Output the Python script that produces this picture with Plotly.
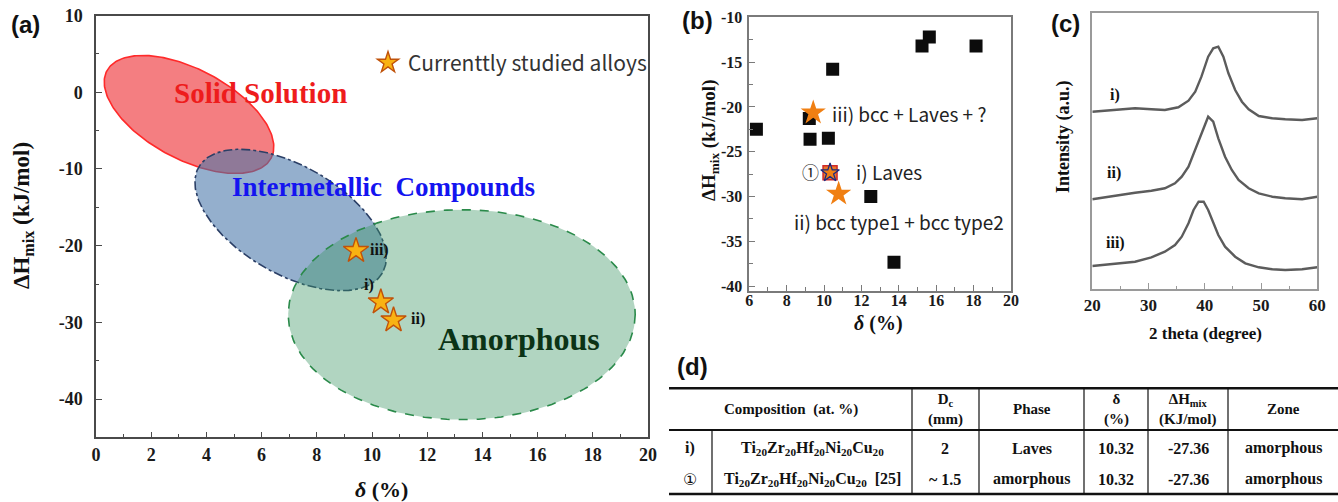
import numpy as np
import plotly.graph_objects as go

W, H = 1338, 502
OFF = 0  # page body margin is removed by the post script below

# ---------------- data ----------------
# currently studied alloys (panels a and b)
alloy_labels = ["i)", "ii)", "iii)"]
alloy_delta = [10.32, 10.78, 9.42]
alloy_dHmix = [-27.36, -29.7, -20.65]

# panel (b): reference alloys (black squares)
ref_delta = [6.38, 9.21, 9.25, 10.23, 10.46, 15.24, 15.63, 18.13, 12.5, 13.74]
ref_dHmix = [-22.5, -21.3, -23.6, -23.5, -15.8, -13.2, -12.2, -13.2, -30.0, -37.35]
# panel (b): reference alloy (1) of same composition
ref1_delta = [10.32]
ref1_dHmix = [-27.36]

# panel (a) region ellipses: centre in data units, semi-axes in px, tilt in degrees
region_names = ["Solid Solution", "Intermetallic  Compounds", "Amorphous"]
region_cx = [3.37, 7.05, 13.25]
region_cy = [-2.89, -16.65, -29.0]
region_a_px = [93, 106, 173.5]
region_b_px = [45, 54, 105]
region_tilt = [28, 30, 0]

# panel (a) ticks
a_xtick_vals = [0, 2, 4, 6, 8, 10, 12, 14, 16, 18, 20]
a_xtick_text = ["0", "2", "4", "6", "8", "10", "12", "14", "16", "18", "20"]
a_ytick_vals = [10, 0, -10, -20, -30, -40]
a_ytick_text = ["10", "0", "-10", "-20", "-30", "-40"]
# panel (b) ticks
b_xtick_vals = [6, 8, 10, 12, 14, 16, 18, 20]
b_xtick_text = ["6", "8", "10", "12", "14", "16", "18", "20"]
b_ytick_vals = [-10, -15, -20, -25, -30, -35, -40]
b_ytick_text = ["-10", "-15", "-20", "-25", "-30", "-35", "-40"]
# panel (c) ticks
c_xtick_vals = [20, 30, 40, 50, 60]
c_xtick_text = ["20", "30", "40", "50", "60"]

# panel (c) XRD patterns (intensity, a.u., offset curves)
xrd_i_2theta = [20, 24.6, 27.6, 30.5, 32.9, 35.3, 37.1, 38.3, 39.4, 40.6, 41.5, 42.4,
                43.3, 44.2, 45.4, 46.6, 47.8, 49.6, 52.0, 54.3, 57.3, 60]
xrd_i_int = [177.3, 179.7, 180.7, 179.7, 179.0, 181.7, 188.3, 197.3, 212.3, 232.3, 240.7, 242.3,
             232.3, 215.7, 199.0, 187.3, 179.7, 173.0, 170.7, 169.7, 169.0, 170.7]
xrd_ii_2theta = [20, 24.6, 27.6, 30.5, 32.9, 34.7, 35.9, 37.1, 38.3, 39.4, 40.6, 41.5,
                 42.4, 43.6, 44.8, 46.0, 47.8, 49.6, 52.0, 54.3, 57.3, 60]
xrd_ii_int = [89.7, 94.0, 96.3, 98.3, 100.7, 105.7, 112.3, 122.3, 139.0, 155.7, 172.3, 167.3,
              150.7, 132.3, 119.0, 109.0, 100.7, 95.7, 92.3, 90.7, 89.7, 92.3]
xrd_iii_2theta = [20, 24.6, 27.6, 30.5, 32.9, 34.7, 35.9, 37.1, 38.0, 38.9, 39.8, 40.6,
                  41.5, 42.4, 43.6, 45.4, 47.2, 49.6, 52.0, 54.3, 57.3, 60]
xrd_iii_int = [23.0, 25.7, 27.3, 31.7, 37.3, 44.0, 52.3, 65.7, 79.0, 87.3, 87.3, 79.0,
               65.7, 54.0, 42.3, 32.3, 25.7, 21.7, 19.7, 19.0, 19.7, 21.7]

# panel (d) table
tbl_header = ["Composition  (at. %)", "D<sub>c</sub><br>(mm)", "Phase", "δ<br>(%)",
              "ΔH<sub>mix</sub><br>(KJ/mol)", "Zone"]
tbl_row_ids = ["i)", "①"]
tbl_comp = ["Ti<sub>20</sub>Zr<sub>20</sub>Hf<sub>20</sub>Ni<sub>20</sub>Cu<sub>20</sub>",
            "Ti<sub>20</sub>Zr<sub>20</sub>Hf<sub>20</sub>Ni<sub>20</sub>Cu<sub>20</sub>  [25]"]
tbl_dc = ["2", "~ 1.5"]
tbl_phase = ["Laves", "amorphous"]
tbl_delta = ["10.32", "10.32"]
tbl_dH = ["-27.36", "-27.36"]
tbl_zone = ["amorphous", "amorphous"]

# ---------------- layout geometry (window pixels) ----------------
def px(x):
    return (x - OFF) / W

def py(y):
    return 1 - (y - OFF) / H

A_L, A_R, A_T, A_B = 96, 648, 15.6, 437.4
B_L, B_R, B_T, B_B = 749.3, 1011, 17.3, 290.6
C_L, C_R, C_T, C_B = 1092.3, 1317.3, 13.3, 289
a_xr, a_yr = [0, 20], [-45, 10]
b_xr, b_yr = [6, 20], [-40.5, -10]
c_xr, c_yr = [20, 60], [0, 275.7]

SERIF = "Liberation Serif"
SANS = "Noto Sans CJK KR"

fig = go.Figure()

# ---------------- panel (a) ----------------
sx = (A_R - A_L) / (a_xr[1] - a_xr[0])
sy = (A_B - A_T) / (a_yr[1] - a_yr[0])
fills = ["rgba(237,40,45,0.60)", "rgba(70,118,168,0.58)", "rgba(60,150,100,0.40)"]
lines = ["#ff2a2a", "#2b3f66", "#2a8a4a"]
dashes = ["solid", "dashdot", "dash"]
t = np.linspace(0, 2 * np.pi, 240)
for k in range(3):
    th = np.deg2rad(region_tilt[k])
    dxp = region_a_px[k] * np.cos(t) * np.cos(th) - region_b_px[k] * np.sin(t) * np.sin(th)
    dyp = region_a_px[k] * np.cos(t) * np.sin(th) + region_b_px[k] * np.sin(t) * np.cos(th)
    fig.add_trace(go.Scatter(
        x=region_cx[k] + dxp / sx, y=region_cy[k] - dyp / sy,
        mode="lines", fill="toself", fillcolor=fills[k],
        line=dict(color=lines[k], width=1.6, dash=dashes[k]),
        hoverinfo="skip", showlegend=False, xaxis="x", yaxis="y"))

fig.add_trace(go.Scatter(
    x=alloy_delta, y=alloy_dHmix, mode="markers", name="Currenttly studied alloys",
    marker=dict(symbol="star", size=19, color="#f9b212", line=dict(color="#c0520a", width=1.4)),
    xaxis="x", yaxis="y", showlegend=True))

# ---------------- panel (b) ----------------
fig.add_trace(go.Scatter(
    x=ref_delta, y=ref_dHmix, mode="markers",
    marker=dict(symbol="square", size=13, color="#0c0c0c"),
    xaxis="x2", yaxis="y2", showlegend=False))
fig.add_trace(go.Scatter(
    x=ref1_delta, y=ref1_dHmix, mode="markers",
    marker=dict(symbol="square", size=14, color="#e8782a", line=dict(color="#d02a2a", width=1.5)),
    xaxis="x2", yaxis="y2", showlegend=False))
fig.add_trace(go.Scatter(
    x=alloy_delta[1:], y=alloy_dHmix[1:], mode="markers",
    marker=dict(symbol="star", size=19, color="#f07f12", line=dict(width=0)),
    xaxis="x2", yaxis="y2", showlegend=False))
fig.add_trace(go.Scatter(
    x=alloy_delta[:1], y=alloy_dHmix[:1], mode="markers",
    marker=dict(symbol="star", size=14, color="#f07f12", line=dict(color="#1c2a80", width=1.3)),
    xaxis="x2", yaxis="y2", showlegend=False))

# ---------------- panel (c) ----------------
for xs, ys in [(xrd_i_2theta, xrd_i_int), (xrd_ii_2theta, xrd_ii_int), (xrd_iii_2theta, xrd_iii_int)]:
    fig.add_trace(go.Scatter(x=xs, y=ys, mode="lines", line=dict(color="#5c5c5c", width=2.4),
                             xaxis="x3", yaxis="y3", showlegend=False))

# ---------------- axes ----------------
def axis(domain, rng, anchor, color, tv=None, tt=None, font=16, minor=None, standoff=4,
         showticks=True):
    d = dict(domain=domain, range=rng, anchor=anchor, showgrid=False, zeroline=False,
             showline=True, mirror=True, linecolor=color, linewidth=1.5, automargin=False,
             ticks="inside" if showticks else "", ticklen=6, tickcolor=color, tickwidth=1.3,
             tickfont=dict(family=SERIF, size=font, color="#1a1a1a", weight="bold"),
             ticklabelstandoff=standoff, ticklabeloverflow="allow")
    if tv is not None:
        d.update(tickmode="array", tickvals=tv, ticktext=tt)
    else:
        d.update(showticklabels=False)
    if minor is not None:
        d["minor"] = dict(dtick=minor, ticks="inside", ticklen=3.5, tickcolor=color, showgrid=False)
    return d

fig.update_layout(
    width=W, height=H, margin=dict(l=0, r=0, t=0, b=0, pad=0, autoexpand=False),
    paper_bgcolor="white", plot_bgcolor="white",
    xaxis=axis([px(A_L), px(A_R)], a_xr, "y", "#4a4a4a", a_xtick_vals, a_xtick_text, 18, 1, 0),
    yaxis=axis([py(A_B), py(A_T)], a_yr, "x", "#4a4a4a", a_ytick_vals, a_ytick_text, 18, 5, 8),
    xaxis2=axis([px(B_L), px(B_R)], b_xr, "y2", "#7a7a7a", b_xtick_vals, b_xtick_text, 16, 1, -6),
    yaxis2=axis([py(B_B), py(B_T)], b_yr, "x2", "#7a7a7a", b_ytick_vals, b_ytick_text, 16, 2.5, 2),
    xaxis3=axis([px(C_L), px(C_R)], c_xr, "y3", "#9a9a9a", c_xtick_vals, c_xtick_text, 17, 5, 0),
    yaxis3=axis([py(C_B), py(C_T)], c_yr, "x3", "#9a9a9a", showticks=False),
    legend=dict(x=px(368), y=py(63), xanchor="left", yanchor="middle",
                bgcolor="rgba(0,0,0,0)", font=dict(family=SANS, size=21, color="#333333"),
                itemsizing="trace"),
    showlegend=True,
)

ann = []

def A(x, y, text, size, color="#111111", family=SERIF, bold=True, xanchor="center",
      xref="paper", yref="paper", angle=0):
    ann.append(dict(x=x, y=y, text=text, xref=xref, yref=yref, showarrow=False,
                    xanchor=xanchor, yanchor="middle", textangle=angle,
                    font=dict(family=family, size=size, color=color,
                              weight="bold" if bold else "normal")))

# panel letters
A(px(26), py(25), "(a)", 24, family="Liberation Sans")
A(px(697), py(21), "(b)", 24, family="Liberation Sans")
A(px(1065), py(24), "(c)", 24, family="Liberation Sans")
A(px(692), py(366), "(d)", 24, family="Liberation Sans")

# panel (a) texts
A(5.95, -0.1, region_names[0], 29, color="#ee1c1c", xref="x", yref="y")
A(10.42, -12.35, region_names[1], 27, color="#1414f0", xref="x", yref="y")
A(15.33, -32.2, region_names[2], 32, color="#0b3316", xref="x", yref="y")
A(9.85, -20.6, alloy_labels[2], 16, xanchor="left", xref="x", yref="y")
A(9.64, -25.1, alloy_labels[0], 16, xanchor="left", xref="x", yref="y")
A(11.33, -29.5, alloy_labels[1], 16, xanchor="left", xref="x", yref="y")
A(px(23), py(216), "ΔH<sub>mix</sub> (kJ/mol)", 23, angle=-90)
A(px(381), py(489), "<i>δ</i> (%)", 22)

# panel (b) texts
A(10.3, -20.7, "iii) bcc + Laves + ?", 19, color="#222222", family=SANS, bold=False,
  xanchor="left", xref="x2", yref="y2")
A(9.3, -27.2, "①", 17, color="#222222", family=SANS, bold=False, xref="x2", yref="y2")
A(11.6, -27.2, "i) Laves", 19, color="#222222", family=SANS, bold=False,
  xanchor="left", xref="x2", yref="y2")
A(8.27, -32.8, "ii) bcc type1 + bcc type2", 19, color="#222222", family=SANS, bold=False,
  xanchor="left", xref="x2", yref="y2")
A(px(710), py(141), "ΔH<sub>mix</sub> (kJ/mol)", 19, angle=-90)
A(px(878), py(323), "<i>δ</i> (%)", 20)

# panel (c) texts
A(px(1115), py(95), "i)", 16)
A(px(1114), py(173), "ii)", 16)
A(px(1115), py(243), "iii)", 16)
A(px(1063), py(137), "Intensity (a.u.)", 18, angle=-90)
A(px(1205), py(333), "2 theta (degree)", 17)

# panel (d) table
T_L, T_R = 669, 1338
T_TOP, T_HDR, T_BOT = 388.3, 430, 494
col_edges = [669, 712, 912, 979, 1084, 1148, 1228, 1338]
row_y = [448.3, 479.3]
shapes = []
for yy, wdt in [(T_TOP, 2.6), (T_HDR, 2.0), (T_BOT, 2.6)]:
    shapes.append(dict(type="line", xref="paper", yref="paper", x0=px(T_L), x1=px(T_R),
                       y0=py(yy), y1=py(yy), line=dict(color="#111", width=wdt)))
for xe in col_edges[2:-1]:
    shapes.append(dict(type="line", xref="paper", yref="paper", x0=px(xe), x1=px(xe),
                       y0=py(T_TOP), y1=py(T_BOT), line=dict(color="#111", width=1.2)))
shapes.append(dict(type="line", xref="paper", yref="paper", x0=px(col_edges[1]), x1=px(col_edges[1]),
                   y0=py(T_HDR), y1=py(T_BOT), line=dict(color="#111", width=1.2)))

hdr_cx = [(col_edges[0] + col_edges[2]) / 2] + [(col_edges[i] + col_edges[i + 1]) / 2 for i in range(2, 7)]
hdr_y = (T_TOP + T_HDR) / 2
for cx, txt in zip(hdr_cx, tbl_header):
    A(px(cx), py(hdr_y), txt, 15)
cell_cx = [(col_edges[i] + col_edges[i + 1]) / 2 for i in range(7)]
for r in range(2):
    vals = [tbl_row_ids[r], tbl_comp[r], tbl_dc[r], tbl_phase[r], tbl_delta[r], tbl_dH[r], tbl_zone[r]]
    for c, v in enumerate(vals):
        A(px(cell_cx[c]), py(row_y[r]), v, 16,
          family=("DejaVu Sans" if v == "①" else SERIF), bold=(v != "①"))

fig.update_layout(annotations=ann, shapes=shapes)
fig.write_html("out.html", config={"displayModeBar": False},
               post_script="document.body.style.margin='0';document.body.style.overflow='hidden';")
